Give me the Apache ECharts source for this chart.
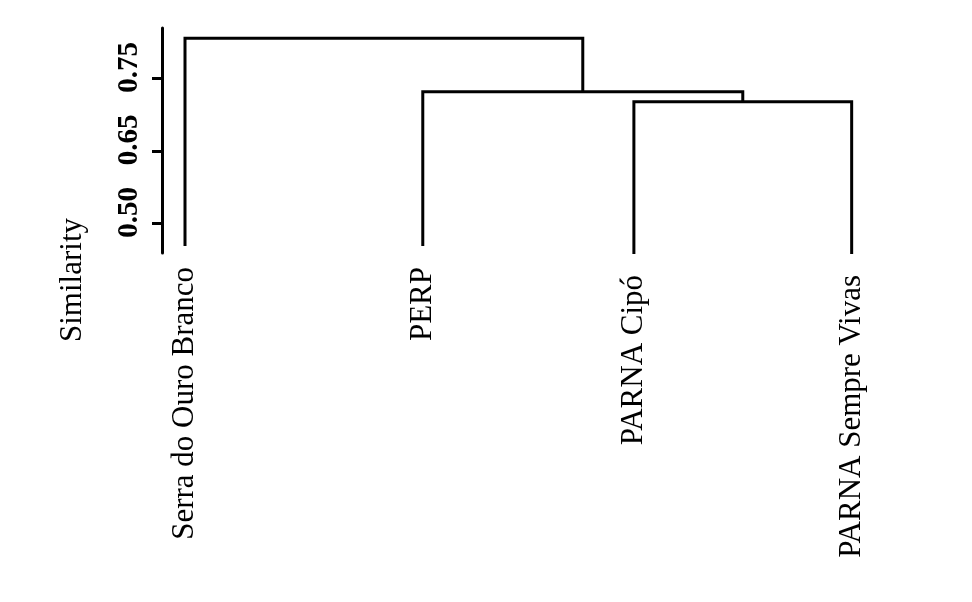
<!DOCTYPE html>
<html>
<head>
<meta charset="utf-8">
<script src="https://cdn.jsdelivr.net/npm/echarts@6/dist/echarts.min.js"></script>
<style>html,body{margin:0;padding:0;background:#fff;}#c{width:972px;height:602px;}</style>
</head>
<body>
<div id="c"></div>
<script>
// ---- data ----
var leafNames = ['Serra do Ouro Branco', 'PERP', 'PARNA Cipó', 'PARNA Sempre Vivas'];
var leafX = [1, 2.07, 3.02, 4];                 // leaf positions along the dendrogram
var leafBottom = [0.687, 0.687, 0.577, 0.577];  // hanging leaf ends (axis units)
// merges: children (negative = leaf index -(i+1), positive = merge number, 1-based), height
var mergeLeft = [-3, -2, -1];
var mergeRight = [-4, 1, 2];
var mergeHeight = [2.677, 2.815, 3.552];
var tickValues = [1, 2, 3];
var tickLabels = ['0.50', '0.65', '0.75'];
var yTitle = 'Similarity';

// ---- build segments ----
var nodeX = [], nodeH = [];
function childInfo(c) {
  if (c < 0) { var i = -c - 1; return { x: leafX[i], h: leafBottom[i] }; }
  return { x: nodeX[c - 1], h: nodeH[c - 1] };
}
var mergePaths = [];
for (var m = 0; m < mergeHeight.length; m++) {
  var a = childInfo(mergeLeft[m]), b = childInfo(mergeRight[m]);
  var H = mergeHeight[m];
  nodeX.push((a.x + b.x) / 2);
  nodeH.push(H);
  mergePaths.push([a.x, a.h, H, b.x, b.h]);
}
var leafData = leafNames.map(function (n, i) { return [leafX[i], leafBottom[i], n]; });

var FONT = '"Liberation Serif", "Times New Roman", serif';
var chart = echarts.init(document.getElementById('c'), null, { renderer: 'canvas' });
chart.setOption({
  animation: false,
  backgroundColor: '#ffffff',
  grid: { left: 162, top: 28, width: 738, height: 225, containLabel: false },
  xAxis: { type: 'value', min: 0.8965, max: 4.2175, show: false },
  yAxis: {
    type: 'value', min: 0.59, max: 3.694,
    splitLine: { show: false },
    axisLine: { show: true, lineStyle: { color: '#000', width: 3 } },
    axisTick: { show: true, length: 10, lineStyle: { color: '#000', width: 3 }, customValues: tickValues },
    axisLabel: {
      customValues: tickValues,
      rotate: 90, margin: 18,
      padding: [0, 0, 0, 22],
      color: '#000', fontFamily: FONT, fontWeight: 'bold', fontSize: 29,
      formatter: function (v) {
        var k = tickValues.indexOf(v);
        return k >= 0 ? tickLabels[k] : '';
      }
    }
  },
  graphic: [{
    type: 'text', x: 73, y: 280, rotation: Math.PI / 2,
    style: { text: yTitle, fill: '#000', font: '31px ' + FONT, textAlign: 'center', textVerticalAlign: 'middle' }
  }],
  series: [{
    type: 'custom',
    clip: false,
    data: mergePaths,
    renderItem: function (params, api) {
      var p1 = api.coord([api.value(0), api.value(1)]);
      var p2 = api.coord([api.value(0), api.value(2)]);
      var p3 = api.coord([api.value(3), api.value(2)]);
      var p4 = api.coord([api.value(3), api.value(4)]);
      return {
        type: 'polyline',
        shape: { points: [p1, p2, p3, p4] },
        style: { stroke: '#000', lineWidth: 3, fill: null, lineJoin: 'miter', lineCap: 'butt' }
      };
    }
  }, {
    type: 'custom',
    clip: false,
    data: leafData,
    renderItem: function (params, api) {
      var p = api.coord([api.value(0), api.value(1)]);
      return {
        type: 'text',
        x: p[0], y: p[1] + 21,
        rotation: Math.PI / 2,
        style: {
          text: leafNames[params.dataIndex], fill: '#000', font: '31px ' + FONT,
          textAlign: 'right', textVerticalAlign: 'middle'
        }
      };
    }
  }]
});
</script>
</body>
</html>
